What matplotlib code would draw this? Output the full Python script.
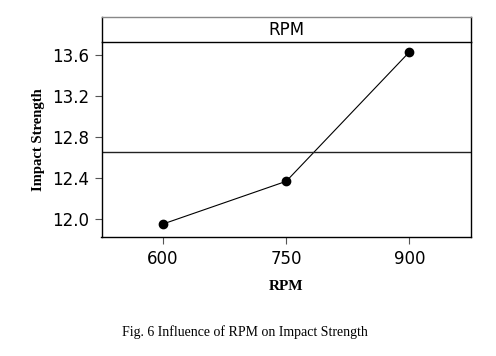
import numpy as np
import matplotlib.pyplot as plt

# main effects data
rpm = [600, 750, 900]
impact = [11.954, 12.37, 13.63]
yticks = [12.0, 12.4, 12.8, 13.2, 13.6]

W, H = 496, 356
fig = plt.figure(figsize=(W / 100, H / 100), dpi=100)

left, right = 101.5, 471
top_hdr, top_plot, bottom = 17, 41.5, 237

ax = fig.add_axes([left / W, 1 - bottom / H, (right - left) / W, (bottom - top_plot) / H])
hdr = fig.add_axes([left / W, 1 - top_plot / H, (right - left) / W, (top_plot - top_hdr) / H])

ax.plot(rpm, impact, 'k-', linewidth=0.8, marker='o', markersize=6)
ax.axhline(np.mean(impact), color='#222222', linewidth=1.0)

ax.set_xlim(525, 975)
ax.set_ylim(11.827, 13.732)
ax.set_xticks(rpm)
ax.set_yticks(yticks)
ax.set_yticklabels(['%.1f' % v for v in yticks])
ax.tick_params(direction='out', length=5, width=0.8, color='#555555', labelsize=12, pad=4)
for s in ax.spines.values():
    s.set_linewidth(1.0)
ax.spines['top'].set_visible(False)

ax.set_xlabel('RPM', fontfamily='Liberation Serif', fontweight='bold', fontsize=11, labelpad=9)
ax.set_ylabel('Impact Strength', fontfamily='Liberation Serif', fontweight='bold', fontsize=10.5, labelpad=5)

hdr.set_xticks([])
hdr.set_yticks([])
for s in hdr.spines.values():
    s.set_linewidth(1.0)
hdr.spines['top'].set_color('#888888')
hdr.text(0.5, 0.45, 'RPM', ha='center', va='center', fontsize=12, transform=hdr.transAxes)

fig.text(245 / W, 1 - 332 / H, 'Fig. 6 Influence of RPM on Impact Strength',
         ha='center', va='center', fontfamily='Liberation Serif', fontsize=10)

plt.savefig('out.png', dpi=100)
